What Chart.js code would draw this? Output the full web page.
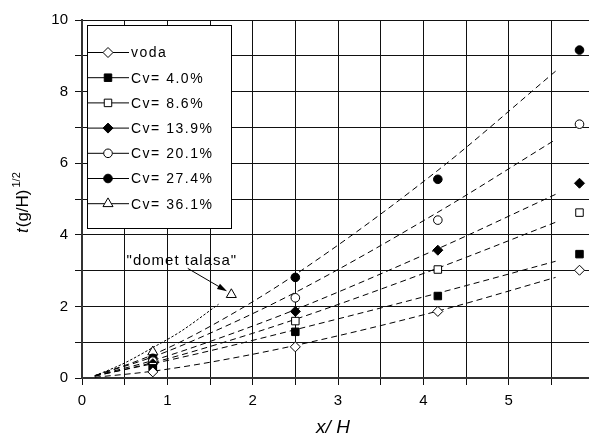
<!DOCTYPE html>
<html>
<head>
<meta charset="utf-8">
<script src="https://cdn.jsdelivr.net/npm/chart.js@4.4.0/dist/chart.umd.min.js"></script>
<style>
  html, body { margin: 0; padding: 0; background: #fff; overflow: hidden; }
  #wrap { width: 620px; height: 437px; }
</style>
</head>
<body>
<div id="wrap"><canvas id="chart" width="620" height="437"></canvas></div>
<script>
// measured points (x/H, t(g/H)^1/2)
const pointX = [0.83, 2.5, 4.17, 5.83];
const vodaPts = [0.17, 0.87, 1.86, 3.01];
const cv40Pts = [0.27, 1.29, 2.29, 3.46];
const cv86Pts = [0.33, 1.59, 3.03, 4.62];
const cv139Pts = [0.40, 1.86, 3.57, 5.44];
const cv201Pts = [0.47, 2.24, 4.41, 7.09];
const cv274Pts = [0.55, 2.81, 5.55, 9.16];
const cv361X = [0.83, 1.75];
const cv361Pts = [0.73, 2.33];

// fitted curves (dashed)
const fitX = [0.15, 0.83, 1.5, 2.5, 4.17, 5.55];
const vodaFit = [0.02, 0.19, 0.44, 0.91, 1.87, 2.81];
const cv40Fit = [0.06, 0.40, 0.76, 1.35, 2.37, 3.26];
const cv86Fit = [0.05, 0.43, 0.88, 1.64, 3.07, 4.35];
const cv139Fit = [0.06, 0.49, 1.02, 1.91, 3.61, 5.13];
const cv201Fit = [0.07, 0.59, 1.25, 2.39, 4.63, 6.66];
const cv274Fit = [0.06, 0.65, 1.44, 2.89, 5.80, 8.57];
const cv361FitX = [0.15, 0.5, 0.83, 1.15, 1.6];
const cv361Fit = [0.06, 0.42, 0.85, 1.29, 2.06];

const labels = ['voda', 'Cv= 4.0%', 'Cv= 8.6%', 'Cv= 13.9%', 'Cv= 20.1%', 'Cv= 27.4%', 'Cv= 36.1%'];
const xTickLabels = [0, 1, 2, 3, 4, 5, 6];
const yTickLabels = [0, 2, 4, 6, 8, 10];

// annotation
const noteText = '"domet talasa"';
const noteAt = [1.17, 3.26];
const arrowFrom = [1.24, 3.06];
const arrowTo = [1.70, 2.42];

const zip = (xs, ys) => xs.map((x, i) => ({ x: x, y: ys[i] }));

const markers = [
  { style: 'rectRot', r: 5, fill: '#fff' },
  { style: 'rect', r: 5.3, fill: '#000' },
  { style: 'rect', r: 5.3, fill: '#fff' },
  { style: 'rectRot', r: 5, fill: '#000' },
  { style: 'circle', r: 4.3, fill: '#fff' },
  { style: 'circle', r: 4.3, fill: '#000' },
  { style: 'triangle', r: 5.8, fill: '#fff' }
];

const ptSeries = [
  zip(pointX, vodaPts), zip(pointX, cv40Pts), zip(pointX, cv86Pts), zip(pointX, cv139Pts),
  zip(pointX, cv201Pts), zip(pointX, cv274Pts), zip(cv361X, cv361Pts)
];
const fitSeries = [
  zip(fitX, vodaFit), zip(fitX, cv40Fit), zip(fitX, cv86Fit), zip(fitX, cv139Fit),
  zip(fitX, cv201Fit), zip(fitX, cv274Fit), zip(cv361FitX, cv361Fit)
];

const datasets = [];
ptSeries.forEach((d, i) => {
  datasets.push({
    label: labels[i], data: d, isPoint: true, order: 0,
    pointStyle: markers[i].style, pointRadius: markers[i].r, pointHoverRadius: markers[i].r,
    backgroundColor: markers[i].fill, borderColor: '#000', borderWidth: 1
  });
});
fitSeries.forEach((d, i) => {
  datasets.push({
    label: labels[i] + ' fit', data: d, showLine: true, order: 1,
    borderColor: '#000', borderWidth: 1, borderDash: i === 6 ? [2.5, 1.8] : [6, 4],
    pointRadius: 0, tension: 0.4, cubicInterpolationMode: 'monotone', fill: false
  });
});

const FONT = '"Liberation Sans", Arial, sans-serif';

const extras = {
  id: 'extras',
  afterDraw(chart) {
    const ctx = chart.ctx, a = chart.chartArea;
    const xs = chart.scales.x, ys = chart.scales.y;
    ctx.save();
    // legend box
    const bx = a.left + 5, by = a.top + 5, bw = 144, bh = 203;
    ctx.fillStyle = '#fff';
    ctx.fillRect(bx, by, bw, bh);
    ctx.strokeStyle = '#000';
    ctx.lineWidth = 1;
    ctx.strokeRect(bx + 0.5, by + 0.5, bw, bh);
    ctx.font = '14px ' + FONT;
    if ('letterSpacing' in ctx) ctx.letterSpacing = '1.5px';
    ctx.textBaseline = 'middle';
    ctx.textAlign = 'left';
    chart.data.datasets.filter(d => d.isPoint).forEach((d, i) => {
      const y = by + 27.5 + i * 25.2;
      ctx.beginPath();
      ctx.moveTo(bx + 1, y);
      ctx.lineTo(bx + 42, y);
      ctx.strokeStyle = '#000';
      ctx.lineWidth = 1;
      ctx.stroke();
      ctx.fillStyle = d.backgroundColor;
      ctx.strokeStyle = d.borderColor;
      Chart.helpers.drawPoint(ctx, { pointStyle: d.pointStyle, radius: d.pointRadius, borderWidth: 1, rotation: 0 }, bx + 21, y);
      ctx.fillStyle = '#000';
      ctx.fillText(d.label, bx + 44, y + 1);
    });
    // annotation
    ctx.font = '15px ' + FONT;
    if ('letterSpacing' in ctx) ctx.letterSpacing = '1px';
    ctx.textAlign = 'center';
    ctx.fillText(noteText, xs.getPixelForValue(noteAt[0]), ys.getPixelForValue(noteAt[1]));
    if ('letterSpacing' in ctx) ctx.letterSpacing = '0px';
    const x0 = xs.getPixelForValue(arrowFrom[0]), y0 = ys.getPixelForValue(arrowFrom[1]);
    const x1 = xs.getPixelForValue(arrowTo[0]), y1 = ys.getPixelForValue(arrowTo[1]);
    const ang = Math.atan2(y1 - y0, x1 - x0);
    ctx.beginPath();
    ctx.moveTo(x0, y0);
    ctx.lineTo(x1 - 6 * Math.cos(ang), y1 - 6 * Math.sin(ang));
    ctx.strokeStyle = '#000';
    ctx.stroke();
    ctx.beginPath();
    ctx.moveTo(x1, y1);
    ctx.lineTo(x1 - 10 * Math.cos(ang) + 3 * Math.sin(ang), y1 - 10 * Math.sin(ang) - 3 * Math.cos(ang));
    ctx.lineTo(x1 - 10 * Math.cos(ang) - 3 * Math.sin(ang), y1 - 10 * Math.sin(ang) + 3 * Math.cos(ang));
    ctx.closePath();
    ctx.fillStyle = '#000';
    ctx.fill();
    // axis titles
    ctx.textAlign = 'center';
    ctx.textBaseline = 'alphabetic';
    ctx.font = 'italic 19px ' + FONT;
    ctx.fillText('x/ H', (a.left + a.right) / 2 - 5, 433);
    ctx.translate(28, 233);
    ctx.rotate(-Math.PI / 2);
    ctx.textAlign = 'left';
    ctx.font = 'italic 17px ' + FONT;
    ctx.fillText('t', 0, 0);
    let w = ctx.measureText('t').width;
    ctx.font = '17px ' + FONT;
    ctx.fillText('(g/H)', w + 1, 0);
    w += 1 + ctx.measureText('(g/H)').width;
    ctx.font = '11px ' + FONT;
    ctx.fillText('1/2', w + 2, -8);
    ctx.restore();
  }
};

new Chart(document.getElementById('chart'), {
  type: 'scatter',
  data: { datasets: datasets },
  plugins: [extras],
  options: {
    responsive: false,
    animation: false,
    devicePixelRatio: 1,
    layout: { padding: { top: 20, right: 26, left: 0, bottom: 0 } },
    plugins: { legend: { display: false }, tooltip: { enabled: false } },
    scales: {
      x: {
        type: 'linear', min: 0, max: 6,
        afterFit: s => { s.height = 59; },
        ticks: {
          stepSize: 0.5, autoSkip: false, maxRotation: 0, padding: 7,
          color: '#000', font: { family: FONT, size: 15 },
          callback: v => xTickLabels.includes(v) ? String(v) : ''
        },
        grid: { color: '#111', lineWidth: 1, tickLength: 7, tickColor: '#111' },
        border: { display: true, color: '#333', width: 2 }
      },
      y: {
        type: 'linear', min: 0, max: 10,
        afterFit: s => { s.width = 82; },
        ticks: {
          stepSize: 1, autoSkip: false, padding: 7,
          color: '#000', font: { family: FONT, size: 15 },
          callback: v => yTickLabels.includes(v) ? String(v) : ''
        },
        grid: { color: '#111', lineWidth: 1, tickLength: 7, tickColor: '#111' },
        border: { display: true, color: '#333', width: 2 }
      }
    }
  }
});
</script>
</body>
</html>
